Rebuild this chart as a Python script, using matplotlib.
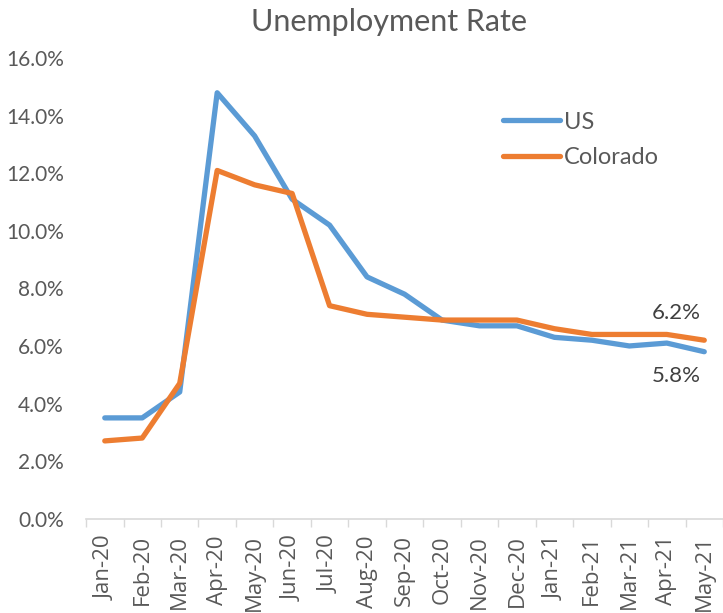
import matplotlib.pyplot as plt
from matplotlib.ticker import FuncFormatter

months = ['Jan-20', 'Feb-20', 'Mar-20', 'Apr-20', 'May-20', 'Jun-20', 'Jul-20', 'Aug-20',
          'Sep-20', 'Oct-20', 'Nov-20', 'Dec-20', 'Jan-21', 'Feb-21', 'Mar-21', 'Apr-21', 'May-21']
us_rate = [3.5, 3.5, 4.4, 14.8, 13.3, 11.1, 10.2, 8.4, 7.8, 6.9, 6.7, 6.7, 6.3, 6.2, 6.0, 6.1, 5.8]
colorado_rate = [2.7, 2.8, 4.7, 12.1, 11.6, 11.3, 7.4, 7.1, 7.0, 6.9, 6.9, 6.9, 6.6, 6.4, 6.4, 6.4, 6.2]

GREY = '#595959'
LABEL_FONT = ['Lato', 'DejaVu Sans']

fig = plt.figure(figsize=(7.23, 6.13), dpi=100)
ax = fig.add_axes([0.119, 0.154, 0.881, 0.751])

x = range(len(months))
ax.plot(x, us_rate, color='#5B9BD5', linewidth=3.8, label='US',
        solid_joinstyle='round', solid_capstyle='round')
ax.plot(x, colorado_rate, color='#ED7D31', linewidth=3.8, label='Colorado',
        solid_joinstyle='round', solid_capstyle='round')

ax.set_xlim(-0.5, len(months) - 0.5)
ax.set_ylim(0, 16)
ax.set_yticks(range(0, 17, 2))
ax.yaxis.set_major_formatter(FuncFormatter(lambda v, p: f'{v:.1f}%'))
ax.tick_params(axis='y', length=0, pad=16, labelsize=15, labelcolor=GREY)
for lbl in ax.get_yticklabels():
    lbl.set_family(LABEL_FONT)

# category labels in the middle, tick marks on the boundaries
ax.set_xticks(list(x))
ax.set_xticklabels(months, rotation=90, fontsize=16, color=GREY, family='Open Sans')
ax.tick_params(axis='x', which='major', length=0, pad=12)
ax.set_xticks([i - 0.5 for i in range(len(months) + 1)], minor=True)
ax.tick_params(axis='x', which='minor', length=6, color='#D9D9D9', width=1)

for s in ['top', 'right', 'left']:
    ax.spines[s].set_visible(False)
ax.spines['bottom'].set_color('#D9D9D9')
ax.spines['bottom'].set_linewidth(1.2)

ax.annotate(f'{colorado_rate[-1]:.1f}%', (x[-1], colorado_rate[-1]), xytext=(-28, 27),
            textcoords='offset pixels', ha='center', va='center', fontsize=16,
            color='#404040', family=LABEL_FONT)
ax.annotate(f'{us_rate[-1]:.1f}%', (x[-1], us_rate[-1]), xytext=(-28, -24),
            textcoords='offset pixels', ha='center', va='center', fontsize=16,
            color='#404040', family=LABEL_FONT)

leg = ax.legend(loc='upper left', bbox_to_anchor=(0.622, 0.93), frameon=False,
                prop={'family': LABEL_FONT, 'size': 17}, handlelength=2.4,
                handletextpad=0.15, labelspacing=0.62)
for t in leg.get_texts():
    t.set_color(GREY)

fig.text(0.538, 0.964, 'Unemployment Rate', ha='center', va='center', fontsize=22,
         color=GREY, family=LABEL_FONT)

plt.savefig('out.png', dpi=100)
